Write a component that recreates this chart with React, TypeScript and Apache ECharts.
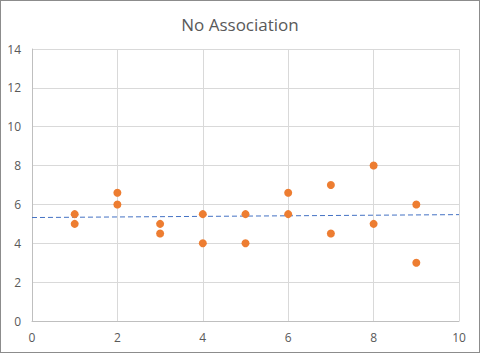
import React, { useEffect, useRef } from "react";
import * as echarts from "echarts";

const title = "No Association";
const xValues = [1, 1, 2, 2, 3, 3, 4, 4, 5, 5, 6, 6, 7, 7, 8, 8, 9, 9];
const yValues = [5.5, 5, 6.6, 6, 5, 4.5, 5.5, 4, 5.5, 4, 6.6, 5.5, 7, 4.5, 8, 5, 6, 3];
const xTicks = [0, 2, 4, 6, 8, 10];
const yTicks = [0, 2, 4, 6, 8, 10, 12, 14];

function regression(xs: number[], ys: number[]) {
  const n = xs.length;
  const mx = xs.reduce((a, b) => a + b, 0) / n;
  const my = ys.reduce((a, b) => a + b, 0) / n;
  let sxy = 0;
  let sxx = 0;
  for (let i = 0; i < n; i++) {
    sxy += (xs[i] - mx) * (ys[i] - my);
    sxx += (xs[i] - mx) * (xs[i] - mx);
  }
  const slope = sxy / sxx;
  return { slope, intercept: my - slope * mx };
}

export default function App() {
  const ref = useRef<HTMLDivElement>(null);
  useEffect(() => {
    document.body.style.margin = "0";
    if (!ref.current) return;
    const chart = echarts.init(ref.current, null, { renderer: "svg" });
    const { slope, intercept } = regression(xValues, yValues);
    const xMin = xTicks[0];
    const xMax = xTicks[xTicks.length - 1];
    const trend = [
      [xMin, intercept + slope * xMin],
      [xMax, intercept + slope * xMax],
    ];
    const font = "'Open Sans', 'Noto Sans', sans-serif";
    chart.setOption({
      animation: false,
      backgroundColor: "#ffffff",
      title: {
        text: title,
        left: "center",
        top: 11,
        textStyle: { fontFamily: font, fontSize: 17, fontWeight: "normal", color: "#595959" },
      },
      grid: { left: 32, right: 21, top: 49, bottom: 32, containLabel: false },
      xAxis: {
        type: "value",
        min: xMin,
        max: xMax,
        interval: 2,
        axisLine: { show: true, lineStyle: { color: "#bfbfbf" } },
        axisTick: { show: false },
        splitLine: { show: true, lineStyle: { color: "#d9d9d9" } },
        axisLabel: { fontFamily: font, fontSize: 12, color: "#595959", margin: 10 },
      },
      yAxis: {
        type: "value",
        min: yTicks[0],
        max: yTicks[yTicks.length - 1],
        interval: 2,
        axisLine: { show: true, lineStyle: { color: "#bfbfbf" } },
        axisTick: { show: false },
        splitLine: { show: true, lineStyle: { color: "#d9d9d9" } },
        axisLabel: { fontFamily: font, fontSize: 12, color: "#595959", margin: 11 },
      },
      series: [
        {
          type: "line",
          data: trend,
          symbol: "none",
          lineStyle: { color: "#4472c4", width: 1, type: [5, 3] },
          z: 2,
        },
        {
          type: "scatter",
          data: xValues.map((x, i) => [x, yValues[i]]),
          symbolSize: 8,
          itemStyle: { color: "#ed7d31", opacity: 1 },
          z: 3,
        },
      ],
    });
    return () => chart.dispose();
  }, []);
  return (
    <div style={{ position: "relative", width: 480, height: 353 }}>
      <div ref={ref} style={{ position: "absolute", left: 0, top: 0, width: 480, height: 353 }} />
      <div
        style={{
          position: "absolute",
          left: 0,
          top: 0,
          width: 480,
          height: 353,
          boxSizing: "border-box",
          border: "1px solid #8c8c8c",
          pointerEvents: "none",
        }}
      />
    </div>
  );
}
